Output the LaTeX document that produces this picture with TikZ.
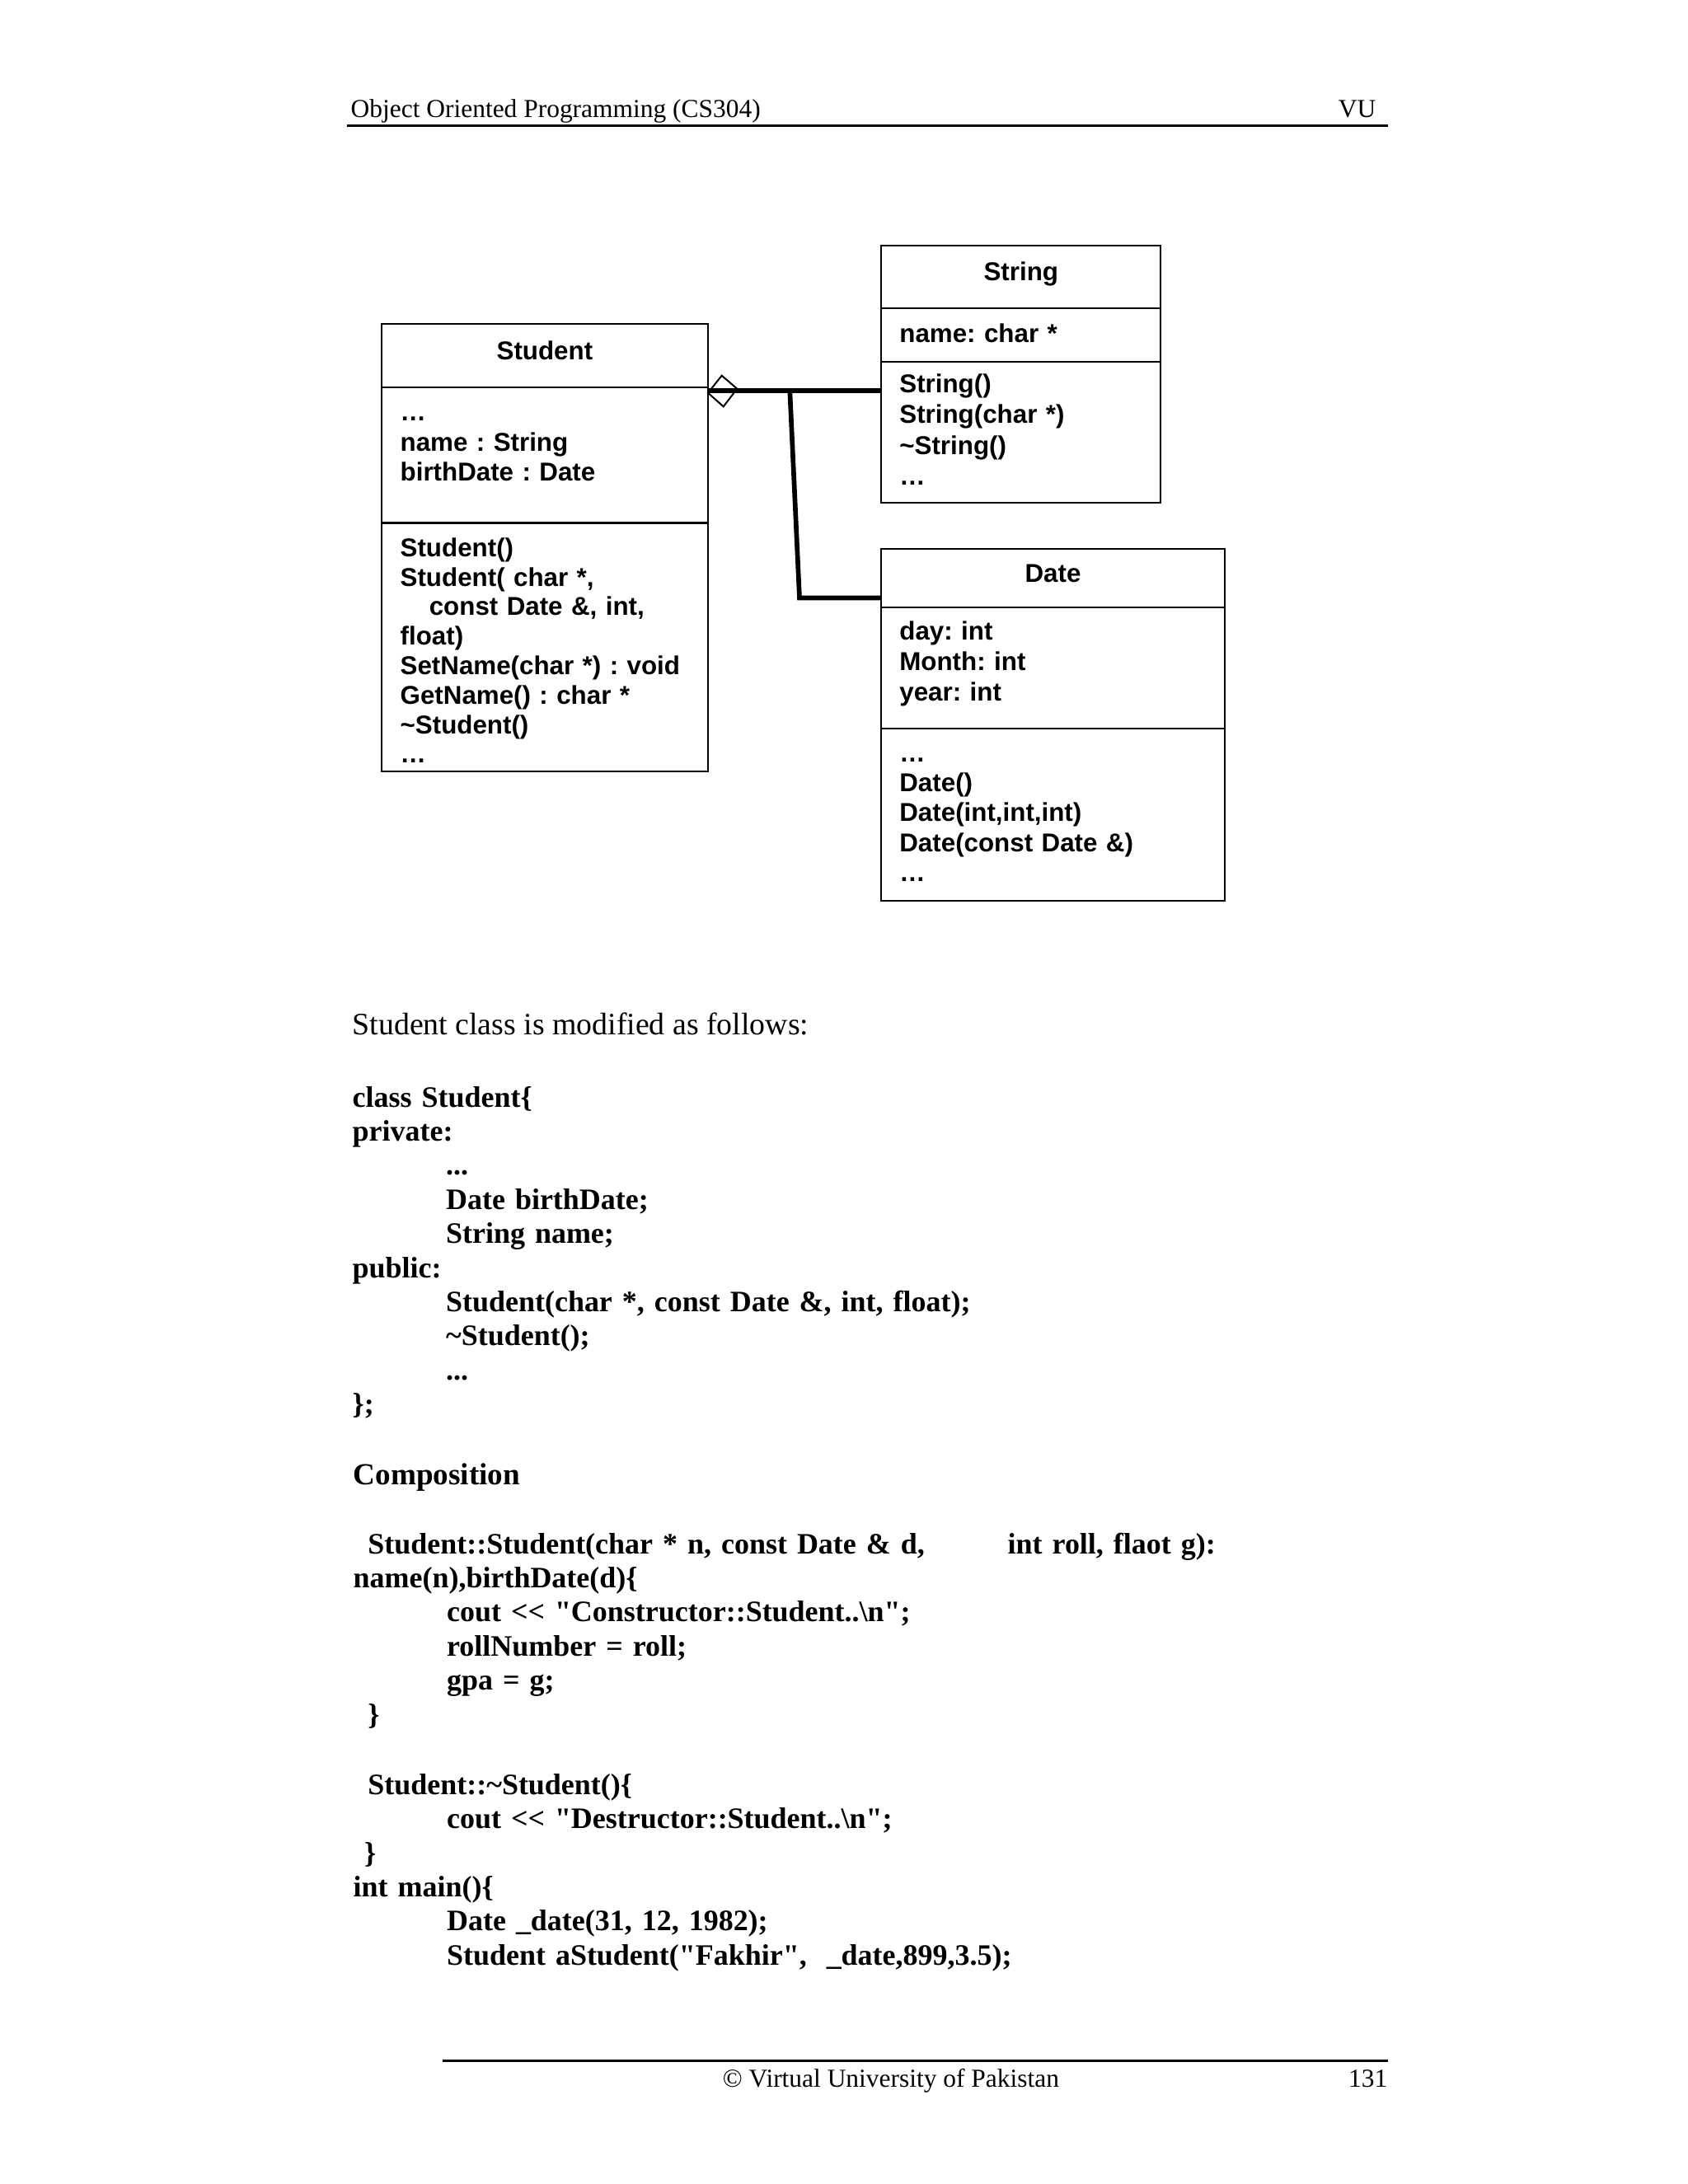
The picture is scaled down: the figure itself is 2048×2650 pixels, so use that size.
\documentclass[tikz,border=0pt]{standalone}
\usepackage{fontspec}
\setmainfont{Liberation Serif}[Ligatures=TeXOff]
\newfontfamily\umlfont{Liberation Sans}[Ligatures=TeXOff]
\usetikzlibrary{fit}

\newcommand{\codetab}{\hspace*{33.9pt}}
\newcommand{\codelead}{\hspace*{5.3pt}}

\tikzset{
  umlbox/.style={draw, line width=0.65pt, inner sep=0pt},
  umltitle/.style={anchor=base, inner sep=0pt, font=\umlfont\bfseries\fontsize{9.36}{10.9}\selectfont},
  umltext/.style={anchor=base west, inner sep=0pt, align=left, text width=112pt,
    font=\umlfont\bfseries\fontsize{9.36}{#1}\selectfont},
  umltext/.default=10.9,
  assoc/.style={line width=1.7pt},
  pagetext/.style={inner sep=0pt, font=\fontsize{9.4}{11}\selectfont},
  bodytext/.style={anchor=base west, inner sep=0pt, font=\fontsize{11.3}{12.4}\selectfont},
  codetext/.style={anchor=base west, inner sep=0pt, align=left, text width=400pt,
    font=\bfseries\fontsize{10.75}{12.37}\selectfont},
  rulerline/.style={line width=0.75pt}
}

\begin{document}
\frenchspacing
\begin{tikzpicture}[x=0.29883pt, y=-0.29883pt]
    \useasboundingbox (0,0) rectangle (2048,2650);

    % page head and foot
    \node[pagetext, anchor=base west] (hdrL) at (425,142) {Object Oriented Programming (CS304)};
    \node[pagetext, anchor=base east] (hdrR) at (1670,142) {VU};
    \draw[rulerline] (421,152.7) -- (1684,152.7);
    \draw[rulerline] (537,2500.7) -- (1684,2500.7);
    \node[pagetext, anchor=base] (ftrC) at (1081,2532) {© Virtual University of Pakistan};
    \node[pagetext, anchor=base east] (ftrN) at (1684,2532) {131};

    % class Student
    \node[umlbox, fit={(462.7,392.9) (859,470)}] (stuTitle) {};
    \node[umlbox, fit={(462.7,470) (859,634.5)}] (stuAttr) {};
    \node[umlbox, fit={(462.7,634.5) (859,936)}] (stuMeth) {};
    \node[umltitle] (stuName) at (660.9,436) {Student};
    \node[umltext] (stuAttrText) at (485,510.6) {…\\ name : String\\ birthDate : Date};
    \node[umltext=10.7] (stuMethText) at (485,675.2) {Student()\\ Student( char *,\\
        \hspace*{10.5pt}const Date \&, int,\\ float)\\ SetName(char *) : void\\
        GetName() : char *\\ \textasciitilde Student()\\ …};

    % class String
    \node[umlbox, fit={(1069.3,298.3) (1408.3,374.3)}] (strTitle) {};
    \node[umlbox, fit={(1069.3,374.3) (1408.3,438.7)}] (strAttr) {};
    \node[umlbox, fit={(1069.3,438.7) (1408.3,610)}] (strMeth) {};
    \node[umltitle] (strName) at (1238.8,340) {String};
    \node[umltext] (strAttrText) at (1090.7,415) {name: char *};
    \node[umltext=11.1] (strMethText) at (1090.7,476.7) {String()\\ String(char *)\\
        \textasciitilde String()\\ …};

    % class Date
    \node[umlbox, fit={(1069.3,665.7) (1485.7,736.7)}] (dateTitle) {};
    \node[umlbox, fit={(1069.3,736.7) (1485.7,884.3)}] (dateAttr) {};
    \node[umlbox, fit={(1069.3,884.3) (1485.7,1092.7)}] (dateMeth) {};
    \node[umltitle] (dateName) at (1277.5,706) {Date};
    \node[umltext=11.06] (dateAttrText) at (1090.7,776.7) {day: int\\ Month: int\\ year: int};
    \node[umltext] (dateMethText) at (1090.7,924) {…\\ Date()\\ Date(int,int,int)\\
        Date(const Date \&)\\ …};

    % aggregation
    \coordinate (aggr) at (859,474);
    \coordinate (jn) at (958.3,474);
    \coordinate (bend) at (970,725.5);
    \draw[line width=0.6pt] (859,476.7) -- (875.7,455.7) -- (894.3,471.7) -- (877.7,493.3) -- cycle;
    \draw[assoc] (aggr) -- (aggr -| strMeth.west);
    \draw[assoc] (jn) -- (bend) -- (bend -| dateTitle.west);

    % text below the diagram
    \node[bodytext] (intro) at (427,1255.4) {Student class is modified as follows:};
    \node[codetext] (classDecl) at (427,1343.1) {class Student\{\\ private:\\
        \codetab...\\ \codetab Date birthDate;\\ \codetab String name;\\ public:\\
        \codetab Student(char *, const Date \&, int, float);\\
        \codetab\textasciitilde Student();\\ \codetab...\\ \};};
    \node[codetext, font=\bfseries\fontsize{11.1}{12.37}\selectfont] (compTitle) at (428,1801.7) {Composition};
    \node[codetext] (ctorCode) at (428,1885) {\codelead Student::Student(char * n, const Date \& d,\\
        name(n),birthDate(d)\{\\
        \codetab cout << "Constructor::Student..\textbackslash n";\\
        \codetab rollNumber = roll;\\ \codetab gpa = g;\\ \codelead\}};
    \node[codetext, text width=100pt] (ctorTail) at (1222,1885) {int roll, flaot g):};
    \node[codetext] (dtorCode) at (428,2177.3) {\codelead Student::\textasciitilde Student()\{\\
        \codetab cout << "Destructor::Student..\textbackslash n";\\
        \hspace*{4pt}\}\\ int main()\{\\
        \codetab Date \_date(31, 12, 1982);\\
        \codetab Student aStudent("Fakhir",~~\_date,899,3.5);};
\end{tikzpicture}
\end{document}
